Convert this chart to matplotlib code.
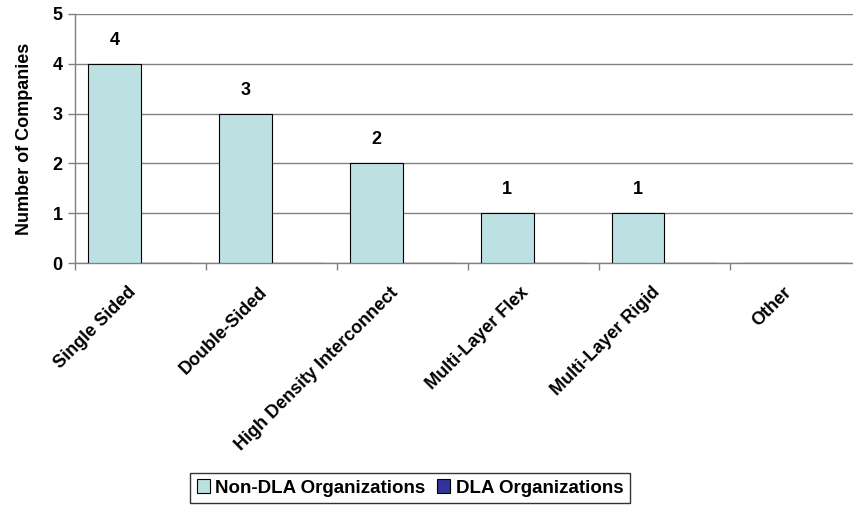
import matplotlib.pyplot as plt
import matplotlib.transforms as mtransforms
import numpy as np

plt.rcParams['font.family'] = ['Liberation Sans', 'DejaVu Sans']
plt.rcParams['font.weight'] = 'bold'

categories = ['Single Sided', 'Double-Sided', 'High Density Interconnect',
              'Multi-Layer Flex', 'Multi-Layer Rigid', 'Other']
non_dla = [4, 3, 2, 1, 1, 0]
dla = [0, 0, 0, 0, 0, 0]

fig = plt.figure(figsize=(8.54, 5.08), dpi=100)
ax = fig.add_axes([75 / 854, 245 / 508, 786 / 854, 249 / 508])

x = np.arange(len(categories))
b1 = ax.bar(x - 0.2, non_dla, 0.4, color='#BDE1E3', edgecolor='black', linewidth=0.8,
            label='Non-DLA Organizations', zorder=3)
b2 = ax.bar(x + 0.2, dla, 0.4, color='#333399', edgecolor='black', linewidth=0.8,
            label='DLA Organizations', zorder=3)

for xi, v in zip(x, non_dla):
    if v > 0:
        ax.text(xi - 0.2, v + 0.3, str(v), ha='center', va='bottom', fontsize=13, fontweight='bold')

ax.set_xlim(-0.5, len(categories) - 0.5)
ax.set_ylim(0, 5)
ax.set_yticks(range(6))
ax.yaxis.grid(True, color='#808080', linewidth=1, zorder=0)
ax.tick_params(axis='y', length=5, width=1, color='#808080', labelsize=13, pad=4)

ax.set_xticks(x)
ax.set_xticklabels(categories, rotation=45, ha='right', rotation_mode='anchor', fontsize=13)
ax.tick_params(axis='x', which='major', length=0, pad=15)
ax.set_xticks(np.arange(len(categories)) - 0.5, minor=True)
ax.tick_params(axis='x', which='minor', length=5, width=1, color='#808080')

# excel puts the rotated labels a little left of the category centre
shift = mtransforms.ScaledTranslation(-13 / 100, 0, fig.dpi_scale_trans)
for lbl in ax.get_xticklabels():
    lbl.set_transform(lbl.get_transform() + shift)

for s in ['top', 'right']:
    ax.spines[s].set_visible(False)
ax.spines['left'].set_color('#808080')
ax.spines['bottom'].set_color('#808080')
ax.spines['left'].set_linewidth(1)
ax.spines['bottom'].set_linewidth(1)

ax.set_ylabel('Number of Companies', fontsize=13, fontweight='bold', labelpad=14)

leg = fig.legend(handles=[b1, b2], loc='center', bbox_to_anchor=(410 / 854, 1 - 488 / 508),
                 ncol=2, fontsize=13.5, frameon=True, fancybox=False, edgecolor='black',
                 handlelength=0.7, handleheight=0.7, handletextpad=0.3, columnspacing=0.6,
                 borderpad=0.35)
leg.get_frame().set_linewidth(1)

fig.savefig('out.png', dpi=100)
